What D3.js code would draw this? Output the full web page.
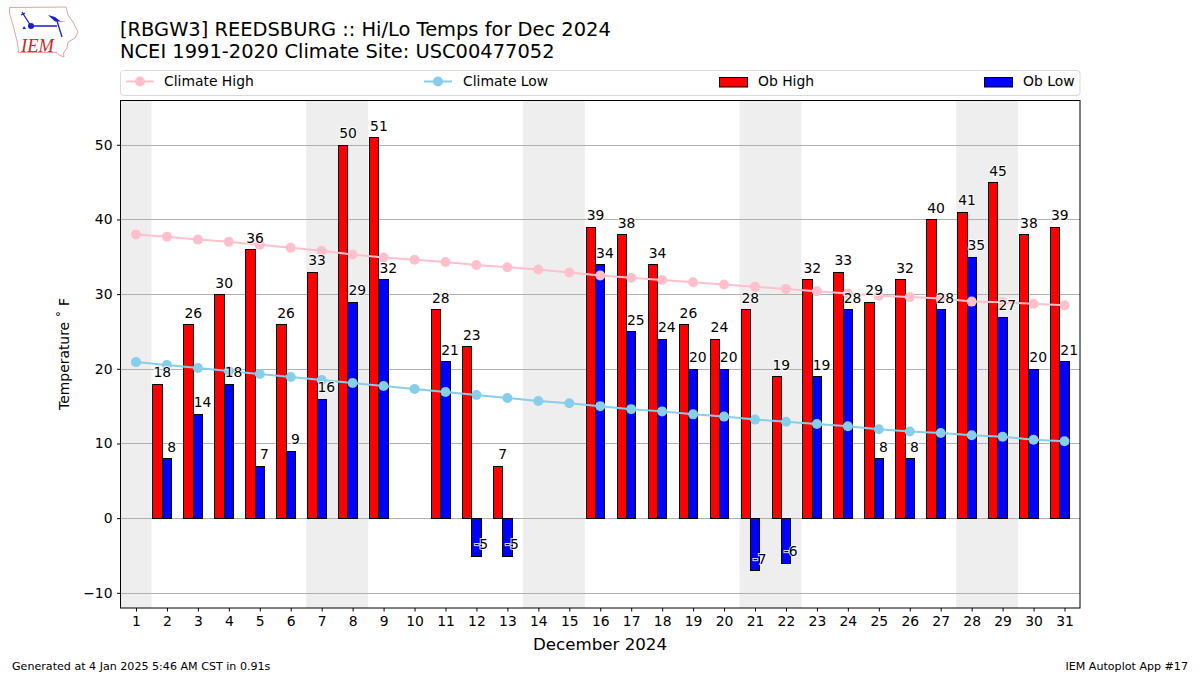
<!DOCTYPE html>
<html><head><meta charset="utf-8">
<script src="https://cdn.jsdelivr.net/npm/d3@7"></script>
<style>
html,body{margin:0;padding:0;background:#fff}
svg{display:block}
text{font-family:"DejaVu Sans",sans-serif;fill:#000}
</style></head><body><svg id="c" width="1200" height="675"></svg>
<script>
const days = d3.range(1, 32);
const obHigh = [null,18,26,30,36,26,33,50,51,null,28,23,7,null,null,39,38,34,26,24,28,19,32,33,29,32,40,41,45,38,39];
const obLow  = [null,8,14,18,7,9,16,29,32,null,21,-5,-5,null,null,34,25,24,20,20,-7,-6,19,28,8,8,28,35,27,20,21];
const climateHigh = [38.0,37.7,37.3,37.0,36.6,36.2,35.8,35.3,34.9,34.6,34.3,33.9,33.6,33.3,32.9,32.5,32.2,31.9,31.6,31.3,31.0,30.7,30.4,30.1,29.8,29.6,29.4,29.0,28.9,28.7,28.5];
const climateLow  = [20.9,20.5,20.1,19.7,19.3,18.9,18.5,18.1,17.7,17.3,16.9,16.5,16.1,15.7,15.4,15.0,14.6,14.3,13.9,13.6,13.2,12.9,12.6,12.3,11.9,11.6,11.4,11.1,10.9,10.5,10.3];
const weekends = [[0.5,1.5],[6.5,8.5],[13.5,15.5],[20.5,22.5],[27.5,29.5]];
const yTicks = [-10,0,10,20,30,40,50];
const titleLines = ["[RBGW3] REEDSBURG :: Hi/Lo Temps for Dec 2024","NCEI 1991-2020 Climate Site: USC00477052"];
const legendItems = [
 {label:"Climate High",type:"line",color:"pink",hx:126,tx:164},
 {label:"Climate Low",type:"line",color:"skyblue",hx:424,tx:463},
 {label:"Ob High",type:"bar",color:"red",hx:719,tx:758},
 {label:"Ob Low",type:"bar",color:"blue",hx:984,tx:1023}];

const L=120.5,R=1080,T=100.5,B=608;
const svg=d3.select("#c");
const x=d3.scaleLinear().domain([0.5,31.5]).range([L,R]);
const y=d3.scaleLinear().domain([-12.03,55.93]).range([B,T]);
const snapX=v=>Math.floor(v)+.5, snapY=v=>Math.round(v)+.5;

// weekend bands
svg.append("g").selectAll("rect").data(weekends).join("rect")
 .attr("x",d=>x(d[0])).attr("width",d=>x(d[1])-x(d[0]))
 .attr("y",T).attr("height",B-T).attr("fill","#eeeeee");
// grid
svg.append("g").selectAll("line").data(yTicks).join("line")
 .attr("x1",L).attr("x2",R).attr("y1",d=>snapY(y(d))).attr("y2",d=>snapY(y(d)))
 .attr("stroke","#b0b0b0").attr("stroke-width",1);
// bars
const bw=0.3;
function bars(vals,off,color){
 const top=d=>snapY(y(Math.max(0,vals[d-1])));
 const bot=d=>snapY(y(Math.min(0,vals[d-1])));
 svg.append("g").selectAll("rect").data(days.filter((d,i)=>vals[i]!==null)).join("rect")
  .attr("x",d=>snapX(x(d+off-bw/2))).attr("width",d=>snapX(x(d+off+bw/2))-snapX(x(d+off-bw/2)))
  .attr("y",top).attr("height",d=>bot(d)-top(d))
  .attr("fill",color).attr("stroke","#000").attr("stroke-width",1);
}
bars(obHigh,-0.3,"red");
bars(obLow,0,"blue");
// climate lines
function climate(vals,color){
 const ln=d3.line().x((d,i)=>x(days[i])).y(d=>y(d));
 svg.append("path").attr("d",ln(vals)).attr("fill","none").attr("stroke",color).attr("stroke-width",2);
 svg.append("g").selectAll("circle").data(vals).join("circle")
  .attr("cx",(d,i)=>x(days[i])).attr("cy",d=>y(d)).attr("r",5).attr("fill",color);
}
climate(climateHigh,"pink");
climate(climateLow,"skyblue");
// value labels
function labels(vals,off){
 svg.append("g").selectAll("text").data(days.filter((d,i)=>vals[i]!==null)).join("text")
  .attr("x",d=>x(d+off)).attr("y",d=>y(vals[d-1])-6.5)
  .attr("text-anchor","middle").attr("font-size",13.9)
  .attr("stroke","#fff").attr("stroke-width",2).attr("stroke-opacity",.85).attr("paint-order","stroke")
  .text(d=>vals[d-1]);
}
labels(obHigh,-0.15);
labels(obLow,0.15);
// axes frame
svg.append("rect").attr("x",L).attr("y",T).attr("width",R-L).attr("height",B-T)
 .attr("fill","none").attr("stroke","#000").attr("stroke-width",1);
const xAxis=svg.append("g").attr("transform",`translate(0,${B})`)
 .call(d3.axisBottom(x).tickValues(days).tickSize(3.5).tickPadding(4.5).tickFormat(d3.format("d")));
const yAxis=svg.append("g").attr("transform",`translate(${L},0)`)
 .call(d3.axisLeft(y).tickValues(yTicks).tickSize(3.5).tickPadding(4.5).tickFormat(d=>d<0?"\u2212"+(-d):d));
[xAxis,yAxis].forEach(a=>{a.select(".domain").remove();
 a.selectAll("text").attr("font-size",13.9).attr("font-family","DejaVu Sans").attr("fill","#000");
 a.selectAll("line").attr("stroke","#000").attr("stroke-width",1);});
// axis titles
svg.append("text").attr("x",600).attr("y",649.5).attr("text-anchor","middle").attr("font-size",16.67).text("December 2024");
svg.append("text").attr("transform","translate(69,354) rotate(-90)").attr("text-anchor","middle").attr("font-size",13.9).attr("xml:space","preserve").text("Temperature \u02DA F");
// title
svg.selectAll("text.title").data(titleLines).join("text").attr("class","title")
 .attr("x",120).attr("y",(d,i)=>35.5+i*22).attr("font-size",19.46).text(d=>d);
// legend
svg.append("rect").attr("x",120.5).attr("y",70.5).attr("width",959.5).attr("height",25).attr("rx",3)
 .attr("fill","#fff").attr("stroke","#d9d9d9").attr("stroke-width",1);
legendItems.forEach(d=>{
 if(d.type==="line"){
  svg.append("line").attr("x1",d.hx).attr("x2",d.hx+28).attr("y1",81.5).attr("y2",81.5).attr("stroke",d.color).attr("stroke-width",2);
  svg.append("circle").attr("cx",d.hx+14).attr("cy",81.5).attr("r",5).attr("fill",d.color);
 } else {
  svg.append("rect").attr("x",d.hx+.5).attr("y",77.5).attr("width",28).attr("height",9.5).attr("fill",d.color).attr("stroke","#000").attr("stroke-width",1);
 }
 svg.append("text").attr("x",d.tx).attr("y",86).attr("font-size",13.9).text(d.label);
});
// footer
svg.append("text").attr("x",12).attr("y",670).attr("font-size",11.1).text("Generated at 4 Jan 2025 5:46 AM CST in 0.91s");
svg.append("text").attr("x",1188).attr("y",670).attr("text-anchor","end").attr("font-size",11.1).text("IEM Autoplot App #17");
// logo
const logo=svg.append("g");
logo.append("path").attr("d","M9.5 7.5 L66 7 L68 15 L73 22 L78 32 L75 38 L68 42 L67 48 L63.5 53 L64 57 L59 55 L57 52.5 L18.5 52.5 L17.5 43 L13 25 L9.5 13 Z")
 .attr("fill","#fff").attr("stroke","#e8a0a0").attr("stroke-width",1);
logo.append("path").attr("d","M31 26 L57 26 M57 21 L62 37 M22 12 L24.5 16 L31 26 M21 15 L25 13")
 .attr("fill","none").attr("stroke","#1c1ccc").attr("stroke-width",1.3);
logo.append("path").attr("d","M48 15 L55 17 L60 21 L67 21.5 L55 21.5 Z").attr("fill","#1c1ccc");
logo.append("circle").attr("cx",31).attr("cy",26).attr("r",3).attr("fill","#1c1ccc");
logo.append("path").attr("d","M24 26 L26 29 L22.5 29 Z").attr("fill","#1c1ccc");
logo.append("text").attr("x",21).attr("y",51.5).attr("font-family","Liberation Serif").attr("font-style","italic").attr("font-size",18.5).style("font-family","Liberation Serif").style("fill","#d0262c").text("IEM");
</script></body></html>
